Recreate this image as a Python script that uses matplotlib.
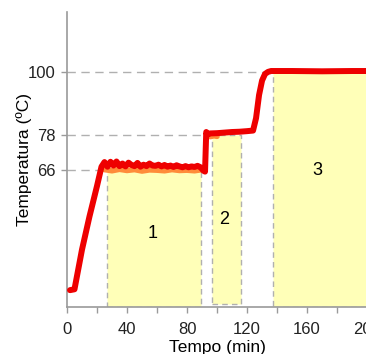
import matplotlib
matplotlib.use("Agg")
import matplotlib.pyplot as plt
from matplotlib.patches import Rectangle

plt.rcParams['font.family'] = ['Liberation Sans', 'DejaVu Sans']

# red curve (measured temperature)
t_red = [2, 5, 10, 15, 20, 23, 25, 27, 29, 31, 33, 35, 37, 39, 41, 43, 45, 47, 49,
         51, 53, 55, 57, 59, 61, 63, 65, 67, 69, 71, 73, 75, 77, 79, 81, 83, 85,
         87, 89, 90, 91, 92, 92.8, 93.5, 95, 100, 105, 110, 115, 120, 124, 126,
         128, 130, 132, 134, 136, 150, 170, 190, 200]
T_red = [24.5, 24.8, 38.5, 50.0, 60.5, 67.2, 68.8, 67.2, 68.9, 67.6, 69.0, 67.4,
         68.3, 67.3, 68.6, 67.8, 67.4, 68.5, 67.2, 67.9, 67.4, 68.3, 67.6, 67.5,
         67.9, 67.3, 67.8, 67.2, 67.6, 67.1, 67.7, 67.3, 67.0, 67.4, 67.0, 67.3,
         67.1, 67.5, 67.0, 66.4, 65.8, 65.5, 79.2, 78.2, 78.7, 78.8, 79.0, 79.2,
         79.3, 79.5, 79.7, 84.0, 92.0, 97.0, 99.3, 100.0, 100.3, 100.3, 100.2,
         100.3, 100.3]

# orange curve (just under the red one)
t_org = [25, 30, 35, 40, 45, 50, 55, 60, 65, 70, 75, 80, 85, 89]
T_org = [66.2, 65.8, 66.3, 65.9, 66.2, 65.7, 66.1, 66.0, 65.8, 66.2, 65.9, 66.0, 65.8, 66.1]
t_org2 = [95.5, 98, 100]
T_org2 = [77.6, 77.9, 77.7]

# shaded stages
stage_start = [27, 96.5, 137]
stage_end = [89, 116, 200]
stage_bottom = [18.7, 19.6, 18.7]
stage_top = [66, 78, 100]
stage_label = ['1', '2', '3']
label_x = [57, 105, 167]
label_y = [44, 49, 66]

yticks = [66, 78, 100]
xticks = [0, 40, 80, 120, 160, 200]

fig = plt.figure(figsize=(3.66, 3.54), dpi=100)
ax = fig.add_axes([0.183, 0.133, 0.820, 0.833])

grey = '#9a9a9a'
for s, e, b, tp, lab, lx, ly in zip(stage_start, stage_end, stage_bottom, stage_top,
                                   stage_label, label_x, label_y):
    ax.add_patch(Rectangle((s, b), e - s, tp - b, facecolor='#ffffb8',
                           edgecolor='#b0b0b0', linestyle=(0, (4, 3)), lw=1.0, zorder=1))
    ax.text(lx, ly, lab, fontsize=13, ha='center', va='center', zorder=4)

for y, s in zip(yticks, stage_start):
    ax.plot([0, s], [y, y], color='#b0b0b0', lw=1.0, linestyle=(0, (6, 4)), zorder=1)

ax.plot(t_org, T_org, color='#ff8c3a', lw=4, solid_capstyle='round', zorder=2)
ax.plot(t_org2, T_org2, color='#ff8c3a', lw=4, solid_capstyle='round', zorder=2)
ax.plot(t_red, T_red, color='#ee0000', lw=4.3, solid_capstyle='round',
        solid_joinstyle='round', zorder=3)

ax.set_xlim(0, 200)
ax.set_ylim(18.7, 120.7)
ax.set_xticks(xticks)
ax.set_xticks(range(0, 201, 20), minor=True)
ax.set_yticks(yticks)
ax.tick_params(axis='both', which='both', colors=grey, labelcolor='#222222',
               labelsize=12, direction='out', length=4, width=1)
ax.tick_params(axis='x', pad=7)
ax.tick_params(axis='y', pad=4)

for side in ['top', 'right']:
    ax.spines[side].set_visible(False)
for side in ['left', 'bottom']:
    ax.spines[side].set_color(grey)
    ax.spines[side].set_linewidth(1.2)

ax.set_xlabel('Tempo (min)', fontsize=12.5, labelpad=2)
ax.set_ylabel('Temperatura (ºC)', fontsize=12.5)
ax.yaxis.set_label_coords(-0.115, 0.5)

fig.savefig('out.png', dpi=100)
